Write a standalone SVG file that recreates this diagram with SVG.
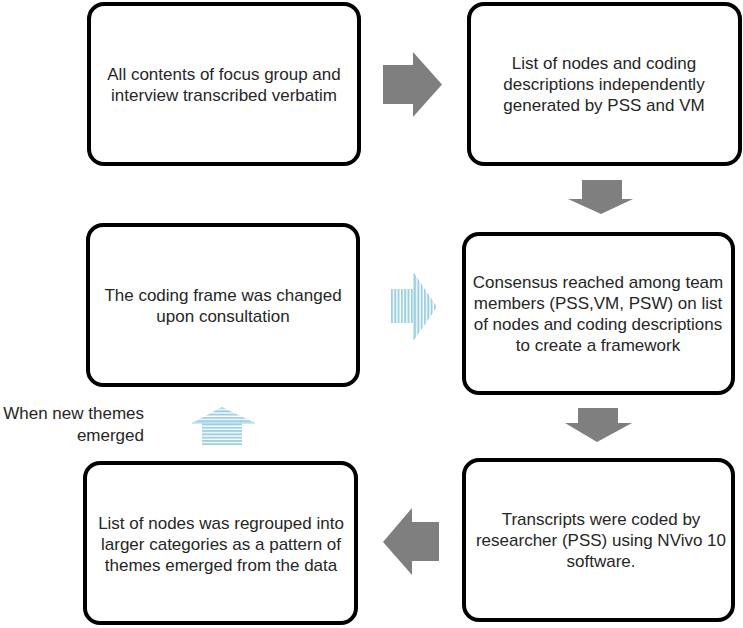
<svg xmlns="http://www.w3.org/2000/svg" width="743" height="628" viewBox="0 0 743 628">
<style>
.box{fill:#fff;stroke:#000;stroke-width:4}
.t{font-family:"Liberation Sans",Arial,sans-serif;font-size:17px;fill:#262626;text-anchor:middle}
.lbl{font-family:"Liberation Sans",Arial,sans-serif;font-size:17px;fill:#262626;text-anchor:end}
.ga{fill:#7f7f7f}
</style>
<defs>
<pattern id="vstripe" patternUnits="userSpaceOnUse" x="391" y="0" width="3.3" height="10">
<rect x="0" y="0" width="2" height="10" fill="#9fd0e1"/>
</pattern>
<pattern id="hstripe" patternUnits="userSpaceOnUse" x="0" y="407" width="10" height="3.3">
<rect x="0" y="0" width="10" height="2" fill="#9fd0e1"/>
</pattern>
</defs>
<rect width="743" height="628" fill="#fff"/>
<g id="connectors">
<polygon class="ga" points="383,65 413,65 413,52 442,84.5 413,117 413,104 383,104"/>
<polygon class="ga" points="582,180 622,180 622,199 633,199 601,214 568,199 582,199"/>
<polygon class="ga" points="578,408 618,408 618,423 632,423 597,442 565,423 578,423"/>
<polygon class="ga" points="439,522 412,522 412,508 383,542 412,575 412,561 439,561"/>
<g id="striped-right">
<polygon fill="url(#vstripe)" points="391,289 414,289 414,273 437,307 414,340 414,323 391,323"/>
<line x1="414" y1="273" x2="414" y2="340" stroke="#9fd0e1" stroke-width="1"/>
</g>
<g id="striped-up">
<polygon fill="url(#hstripe)" points="202,445 202,423 192,423 222,407 255,423 242,423 242,445"/>
<line x1="192" y1="423" x2="255" y2="423" stroke="#9fd0e1" stroke-width="1"/>
</g>
</g>
<g id="node1">
<rect class="box" x="89" y="4" width="270" height="160" rx="15"/>
<text class="t" x="224" y="79.5">All contents of focus group and</text>
<text class="t" x="224" y="100.5">interview transcribed verbatim</text>
</g>
<g id="node2">
<rect class="box" x="469" y="4" width="271" height="160" rx="15"/>
<text class="t" x="604" y="69">List of nodes and coding</text>
<text class="t" x="604" y="90">descriptions independently</text>
<text class="t" x="604" y="111">generated by PSS and VM</text>
</g>
<g id="node3">
<rect class="box" x="464" y="234" width="269" height="159" rx="15"/>
<text class="t" x="598" y="288">Consensus reached among team</text>
<text class="t" x="598" y="309">members (PSS,VM, PSW) on list</text>
<text class="t" x="598" y="330">of nodes and coding descriptions</text>
<text class="t" x="598" y="351">to create a framework</text>
</g>
<g id="node4">
<rect class="box" x="88" y="225" width="270" height="160" rx="15"/>
<text class="t" x="223" y="301">The coding frame was changed</text>
<text class="t" x="223" y="322">upon consultation</text>
</g>
<g id="node5">
<rect class="box" x="464" y="460" width="269" height="160" rx="15"/>
<text class="t" x="601" y="525">Transcripts were coded by</text>
<text class="t" x="601" y="546">researcher (PSS) using NVivo 10</text>
<text class="t" x="601" y="567">software.</text>
</g>
<g id="node6">
<rect class="box" x="85" y="463" width="271" height="160" rx="15"/>
<text class="t" x="221" y="529">List of nodes was regrouped into</text>
<text class="t" x="221" y="550">larger categories as a pattern of</text>
<text class="t" x="221" y="571">themes emerged from the data</text>
</g>
<g id="label">
<text class="lbl" x="144" y="419">When new themes</text>
<text class="lbl" x="144" y="441">emerged</text>
</g>
</svg>
